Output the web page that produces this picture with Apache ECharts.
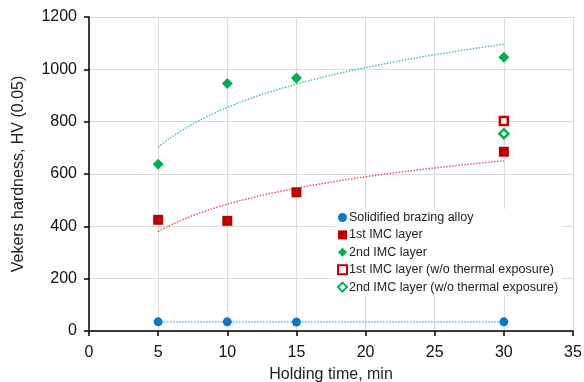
<!DOCTYPE html>
<html>
<head>
<meta charset="utf-8">
<script src="https://cdn.jsdelivr.net/npm/echarts@6/dist/echarts.min.js"></script>
<style>
  html, body { margin: 0; padding: 0; background: #fff; }
  #chart { width: 584px; height: 382px; }
</style>
</head>
<body>
<div id="chart"></div>
<script>
// Holding times (min) and measured hardness values
const holdTimes = [5, 10, 15, 30];
const brazingAlloy = [35, 35, 34, 35];
const imc1 = [425, 421, 530, 685];
const imc2 = [637, 946, 967, 1046];
const noExposureTime = [30];
const imc1NoExposure = [803];
const imc2NoExposure = [754];

const seriesNames = [
  'Solidified brazing alloy',
  '1st IMC layer',
  '2nd IMC layer',
  '1st IMC layer (w/o thermal exposure)',
  '2nd IMC layer (w/o thermal exposure)'
];

const xTicks = { min: 0, max: 35, step: 5 };
const yTicks = { min: 0, max: 1200, step: 200 };

// Least-squares fit y = a*ln(x) + b, sampled between the first and last time
function logTrend(xs, ys) {
  const lx = xs.map(Math.log);
  const n = xs.length;
  const mx = lx.reduce((s, v) => s + v, 0) / n;
  const my = ys.reduce((s, v) => s + v, 0) / n;
  let sxy = 0, sxx = 0;
  for (let i = 0; i < n; i++) {
    sxy += (lx[i] - mx) * (ys[i] - my);
    sxx += (lx[i] - mx) * (lx[i] - mx);
  }
  const a = sxy / sxx, b = my - a * mx;
  const pts = [];
  const x0 = xs[0], x1 = xs[n - 1];
  for (let k = 0; k <= 50; k++) {
    const x = x0 + (x1 - x0) * k / 50;
    pts.push([x, a * Math.log(x) + b]);
  }
  return pts;
}
// Straight least-squares fit
function linTrend(xs, ys) {
  const n = xs.length;
  const mx = xs.reduce((s, v) => s + v, 0) / n;
  const my = ys.reduce((s, v) => s + v, 0) / n;
  let sxy = 0, sxx = 0;
  for (let i = 0; i < n; i++) {
    sxy += (xs[i] - mx) * (ys[i] - my);
    sxx += (xs[i] - mx) * (xs[i] - mx);
  }
  const a = sxy / sxx, b = my - a * mx;
  return [[xs[0], a * xs[0] + b], [xs[n - 1], a * xs[n - 1] + b]];
}

const pair = (xs, ys) => xs.map((x, i) => [x, ys[i]]);

const BLUE = '#0a78d0', RED = '#c00000', GREEN = '#00b050';
const font = 'Liberation Sans, Arial, sans-serif';

const chart = echarts.init(document.getElementById('chart'), null, { renderer: 'canvas' });

function trendSeries(data, color) {
  return {
    type: 'line', data, showSymbol: false, symbol: 'none', silent: true,
    lineStyle: { color, width: 1.5, type: [1.5, 1.5] }, z: 1
  };
}

chart.setOption({
  animation: false,
  backgroundColor: '#fff',
  grid: { left: 89, right: 11, top: 17, bottom: 51, outerBoundsMode: 'none', containLabel: false },
  xAxis: {
    type: 'value', min: xTicks.min, max: xTicks.max, interval: xTicks.step,
    name: 'Holding time, min', nameLocation: 'middle', nameGap: 36,
    nameTextStyle: { fontFamily: font, fontSize: 16, color: '#222' },
    axisLine: { show: true, onZero: false, lineStyle: { color: '#000', width: 1.5 } },
    axisTick: { show: true, length: 5, lineStyle: { color: '#000', width: 1.5 } },
    axisLabel: { fontFamily: font, fontSize: 16, color: '#111', margin: 14 },
    splitLine: { show: true, lineStyle: { color: '#dcdcdc', width: 1 } }
  },
  yAxis: {
    type: 'value', min: yTicks.min, max: yTicks.max, interval: yTicks.step,
    name: 'Vekers hardness, HV (0.05)', nameLocation: 'middle', nameGap: 62,
    nameTextStyle: { fontFamily: font, fontSize: 16, color: '#222' },
    axisLine: { show: true, lineStyle: { color: '#000', width: 1.5 } },
    axisTick: { show: true, length: 5, lineStyle: { color: '#000', width: 1.5 } },
    axisLabel: { fontFamily: font, fontSize: 16, color: '#111', margin: 12,
                 formatter: v => String(v) },
    splitLine: { show: true, lineStyle: { color: '#dcdcdc', width: 1 } }
  },
  legend: {
    data: seriesNames,
    orient: 'vertical', left: 335, top: 209,
    backgroundColor: '#fff',
    padding: [2, 4, 2, 2],
    itemWidth: 9, itemHeight: 9, itemGap: 4.4,
    textStyle: { fontFamily: font, fontSize: 12.5, color: '#222', padding: [0, 0, 0, -3] }
  },
  series: [
    trendSeries(linTrend(holdTimes, brazingAlloy), '#6aaee6'),
    trendSeries(logTrend(holdTimes, imc1), '#e05a5e'),
    trendSeries(logTrend(holdTimes, imc2), '#3fcf80'),
    {
      name: seriesNames[0], type: 'scatter', data: pair(holdTimes, brazingAlloy),
      symbol: 'circle', symbolSize: 9, itemStyle: { color: BLUE, opacity: 1 }, z: 3
    },
    {
      name: seriesNames[1], type: 'scatter', data: pair(holdTimes, imc1),
      symbol: 'rect', symbolSize: 10, itemStyle: { color: RED, opacity: 1 }, z: 3
    },
    {
      name: seriesNames[2], type: 'scatter', data: pair(holdTimes, imc2),
      symbol: 'diamond', symbolSize: 11, itemStyle: { color: GREEN, opacity: 1 }, z: 3
    },
    {
      name: seriesNames[3], type: 'scatter', data: pair(noExposureTime, imc1NoExposure),
      symbol: 'rect', symbolSize: 8,
      itemStyle: { color: '#fff', borderColor: RED, borderWidth: 2.5, opacity: 1 }, z: 3
    },
    {
      name: seriesNames[4], type: 'scatter', data: pair(noExposureTime, imc2NoExposure),
      symbol: 'diamond', symbolSize: 9,
      itemStyle: { color: '#fff', borderColor: GREEN, borderWidth: 2.5, opacity: 1 }, z: 3
    }
  ]
});
</script>
</body>
</html>
